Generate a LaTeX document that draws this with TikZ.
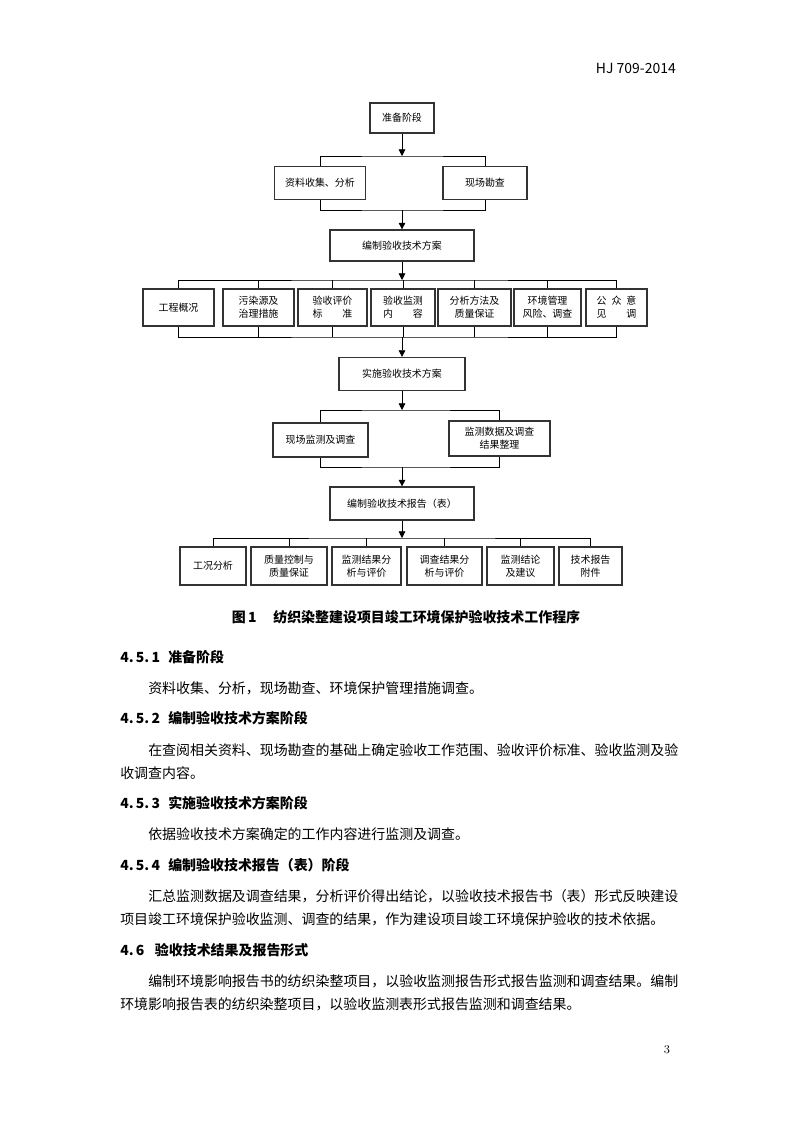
\documentclass[tikz,border=0pt]{standalone}
\usepackage{fontspec}
\usetikzlibrary{arrows.meta}
\newfontfamily\cjk{Noto Sans CJK SC}
\newcommand\boxfont{\fontsize{7.5}{10}\selectfont\cjk}
\newcommand\bodyfont{\fontsize{10.5}{14}\selectfont\cjk}
\newcommand\headfont{\fontsize{10.5}{14}\selectfont\cjk\bfseries}
\colorlet{colbox}{black!80}
\tikzset{
  >={Triangle[length=5pt,width=5pt]},
  stage/.style={draw=colbox, line width=0.9pt, inner sep=1pt, align=center, font=\boxfont},
  wh/.style 2 args={minimum width=#1*0.75bp, minimum height=#2*0.75bp},
  link/.style={black, line width=0.5pt},
  flow/.style={link, ->},
  head/.style={anchor=west, inner sep=0, font=\headfont},
  body/.style={anchor=west, inner sep=0, font=\bodyfont},
}

\begin{document}
\begin{tikzpicture}[x=0.75bp, y=-0.75bp]
  \useasboundingbox (0,0) rectangle (794,1123);
  \fill[white] (0,0) rectangle (794,1123);

  % ---- page head and page number
  \node[anchor=east, inner sep=0, font=\bodyfont] (code) at (676,68) {HJ 709-2014};
  \node[inner sep=0, font=\fontsize{9}{11}\selectfont] (pg) at (667,1050) {3};

  % ---- stages on the main axis (x = 402)
  \node[stage, wh={64}{30}]  (prep)   at (402,118)   {准备阶段};
  \node[stage, wh={144}{31}] (plan)   at (402,245.5) {编制验收技术方案};
  \node[stage, wh={126}{33}] (exec)   at (402,374)   {实施验收技术方案};
  \node[stage, wh={144}{33}] (report) at (402,503.5) {编制验收技术报告（表）};

  % ---- branch boxes
  \node[stage, wh={91}{33}] (collect) at (320,183) {资料收集、分析};
  \node[stage, wh={84}{33}] (survey)  at (485,183) {现场勘查};
  \foreach \nm/\cx/\w/\txt in {
      r1/178.5/71/{工程概况},
      r2/258.5/71/{污染源及\\治理措施},
      r3/332.5/69/{验收评价\\标　　准},
      r4/403/64/{验收监测\\内　　容},
      r5/474.5/73/{分析方法及\\质量保证},
      r6/547.5/67/{环境管理\\风险、调查},
      r7/616.5/61/{公\enspace 众\enspace 意\\见\hspace{2em}调}}
    \node[stage, wh={\w}{37}] (\nm) at (\cx,307.5) {\txt};
  \node[stage, wh={95}{34}]  (field) at (320.5,440)  {现场监测及调查};
  \node[stage, wh={101}{35}] (data)  at (499.5,438.5) {监测数据及调查\\结果整理};
  \foreach \nm/\cx/\w/\txt in {
      s1/213/66/{工况分析},
      s2/289/76/{质量控制与\\质量保证},
      s3/366.5/69/{监测结果分\\析与评价},
      s4/444.5/75/{调查结果分\\析与评价},
      s5/520.5/67/{监测结论\\及建议},
      s6/590.5/63/{技术报告\\附件}}
    \node[stage, wh={\w}{38}] (\nm) at (\cx,566) {\txt};

  % ---- junction bars
  \coordinate (b1) at (402,156);
  \coordinate (b2) at (402,210);
  \coordinate (b3) at (402,280);
  \coordinate (b4) at (402,337);
  \coordinate (b5) at (402,410);
  \coordinate (b6) at (402,467);
  \coordinate (b7) at (402,538);

  % ---- connectors
  \draw[flow] (prep) -- (b1);
  \draw[link] (collect.north) |- (b1) -| (survey.north);
  \draw[link] (collect.south) |- (b2) -| (survey.south);
  \draw[flow] (b2) -- (plan);

  \draw[flow] (plan) -- (b3);
  \draw[link] (r1.north) |- (b3) -| (r7.north);
  \draw[link] (r1.south) |- (b4) -| (r7.south);
  \foreach \nm in {r2,r3,r4,r5,r6}
    \draw[link] (b3 -| \nm.north) -- (\nm.north) (b4 -| \nm.south) -- (\nm.south);
  \draw[flow] (b4) -- (exec);

  \draw[flow] (exec) -- (b5);
  \draw[link] (field.north) |- (b5) -| (data.north);
  \draw[link] (field.south) |- (b6) -| (data.south);
  \draw[flow] (b6) -- (report);

  \draw[flow] (report) -- (b7);
  \draw[link] (s1.north) |- (b7) -| (s6.north);
  \foreach \nm in {s2,s3,s4,s5}
    \draw[link] (b7 -| \nm.north) -- (\nm.north);

  % ---- caption
  \node[inner sep=0, font=\headfont] (cap) at (406,617)
    {图\,1\hspace{1.2em}纺织染整建设项目竣工环境保护验收技术工作程序};

  % ---- section heads
  \foreach \y/\txt in {
      657/{\makebox[36bp][l]{4.\,5.\,1}准备阶段},
      718/{\makebox[36bp][l]{4.\,5.\,2}编制验收技术方案阶段},
      803/{\makebox[36bp][l]{4.\,5.\,3}实施验收技术方案阶段},
      865/{\makebox[36bp][l]{4.\,5.\,4}编制验收技术报告（表）阶段},
      950/{\makebox[26bp][l]{4.\,6}验收技术结果及报告形式}}
    \node[head] (h\y) at (120,\y) {\txt};

  % ---- body lines
  \foreach \x/\y/\txt in {
      148/688/{资料收集、分析，现场勘查、环境保护管理措施调查。},
      148/750/{在查阅相关资料、现场勘查的基础上确定验收工作范围、验收评价标准、验收监测及验},
      120/773/{收调查内容。},
      148/834/{依据验收技术方案确定的工作内容进行监测及调查。},
      148/896/{汇总监测数据及调查结果，分析评价得出结论，以验收技术报告书（表）形式反映建设},
      120/919/{项目竣工环境保护验收监测、调查的结果，作为建设项目竣工环境保护验收的技术依据。},
      148/981/{编制环境影响报告书的纺织染整项目，以验收监测报告形式报告监测和调查结果。编制},
      120/1004/{环境影响报告表的纺织染整项目，以验收监测表形式报告监测和调查结果。}}
    \node[body] (t\y) at (\x,\y) {\txt};

\end{tikzpicture}
\end{document}
